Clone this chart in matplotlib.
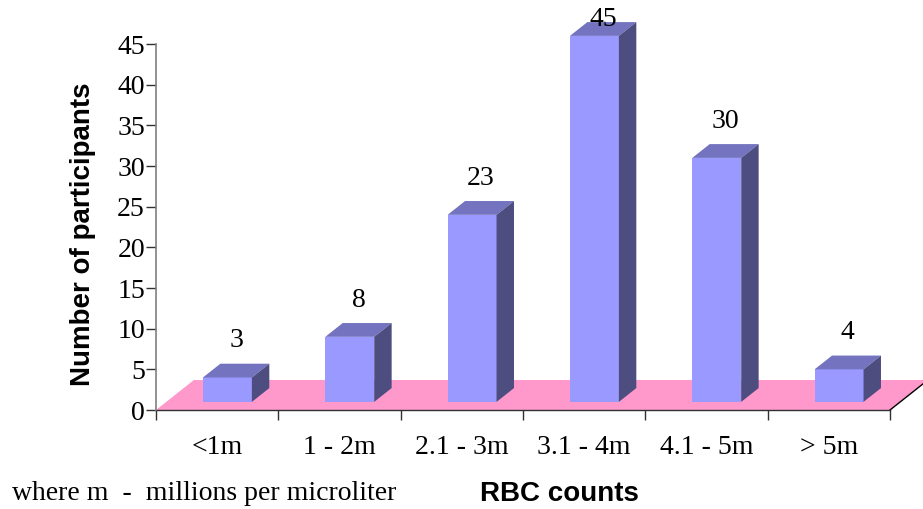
import matplotlib
matplotlib.use("Agg")
import matplotlib.pyplot as plt
from matplotlib.patches import Polygon

categories = ["<1m", "1 - 2m", "2.1 - 3m", "3.1 - 4m", "4.1 - 5m", "> 5m"]
participants = [3, 8, 23, 45, 30, 4]
y_ticks = [0, 5, 10, 15, 20, 25, 30, 35, 40, 45]

FRONT = "#9999FF"
TOP = "#7373C0"
SIDE = "#4D4D80"
FLOOR = "#FF99CC"

SERIF = ["Liberation Serif", "DejaVu Serif"]
SANS = ["Liberation Sans", "DejaVu Sans"]

# depth of the floor, in category units (x) and value units (y)
DEPTH_X = 0.31
DEPTH_Y = 3.69
BAR_FRONT = 0.27   # fraction of the floor depth where bars start
BAR_BACK = 0.73
BAR_WIDTH = 0.40

fig = plt.figure(figsize=(9.23, 5.09), dpi=100)
ax = fig.add_axes([156 / 923, 99 / 509, 734 / 923, 366 / 509])
ax.set_xlim(0, len(categories))
ax.set_ylim(0, 45)

# pink floor
floor = Polygon(
    [(0, 0), (len(categories), 0),
     (len(categories) + DEPTH_X, DEPTH_Y), (DEPTH_X, DEPTH_Y)],
    closed=True, facecolor=FLOOR, edgecolor="none", clip_on=False, zorder=1,
)
ax.add_patch(floor)
ax.plot([len(categories), len(categories) + DEPTH_X], [0, DEPTH_Y],
        color="black", lw=1.0, clip_on=False, zorder=2)

fx, fy = DEPTH_X * BAR_FRONT, DEPTH_Y * BAR_FRONT
bx, by = DEPTH_X * BAR_BACK, DEPTH_Y * BAR_BACK

for i, v in enumerate(participants):
    left = i + 0.5 - BAR_WIDTH / 2 + fx
    right = left + BAR_WIDTH
    base = fy
    top = v + fy
    ddx, ddy = bx - fx, by - fy
    ax.add_patch(Polygon([(left, base), (right, base), (right, top), (left, top)],
                         facecolor=FRONT, edgecolor="none", zorder=3, clip_on=False))
    ax.add_patch(Polygon([(left, top), (right, top), (right + ddx, top + ddy),
                          (left + ddx, top + ddy)],
                         facecolor=TOP, edgecolor="none", zorder=3, clip_on=False))
    ax.add_patch(Polygon([(right, base), (right + ddx, base + ddy),
                          (right + ddx, top + ddy), (right, top)],
                         facecolor=SIDE, edgecolor="none", zorder=3, clip_on=False))
    label_y = min(v + by + 2.8, 48.0)
    ax.text(i + 0.5 + (fx + bx) / 2, label_y, str(v), ha="center", va="center",
            fontsize=20, family=SERIF, zorder=4, clip_on=False)

for side in ("top", "right"):
    ax.spines[side].set_visible(False)
ax.spines["left"].set_color("#808080")
ax.spines["left"].set_linewidth(1.2)
ax.spines["bottom"].set_color("#303030")
ax.spines["bottom"].set_linewidth(1.0)
ax.spines["bottom"].set_zorder(2)

ax.set_yticks(y_ticks)
ax.set_yticklabels([str(t) for t in y_ticks], family=SERIF, fontsize=20)
ax.set_xticks(range(len(categories) + 1))
ax.set_xticklabels([])
ax.set_xticks([i + 0.5 for i in range(len(categories))], minor=True)
ax.set_xticklabels(categories, minor=True, family=SERIF, fontsize=20)
ax.tick_params(axis="x", which="major", direction="out", length=7, width=1.0,
               color="#303030")
ax.tick_params(axis="x", which="minor", length=0, pad=18)
ax.tick_params(axis="y", direction="out", length=7, width=1.0, color="#303030",
               pad=1)

ax.set_ylabel("Number of participants", family=SANS, fontweight="bold",
              fontsize=20, va="center")
ax.yaxis.set_label_coords(-0.0995, 0.481)

fig.text(12 / 923, 1 - 494 / 509, "where m  -  millions per microliter",
         family=SERIF, fontsize=20, ha="left", va="center")
fig.text(559 / 923, 1 - 494 / 509, "RBC counts", family=SANS,
         fontweight="bold", fontsize=20, ha="center", va="center")

fig.savefig("out.png", dpi=100)
